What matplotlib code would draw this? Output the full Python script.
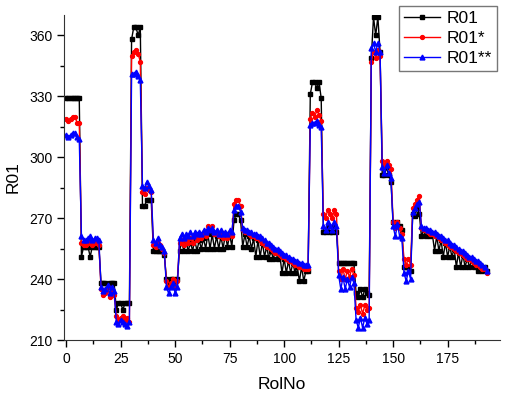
import numpy as np
import matplotlib
matplotlib.use("Agg")
import matplotlib.pyplot as plt
from matplotlib.ticker import MultipleLocator

# values, one line per plateau
r01 = (
    [329, 329, 329, 329, 329, 329, 329]
    + [251, 256, 256, 256, 251, 256, 256, 256, 256]
    + [238, 238, 238, 236, 238, 238, 238]
    + [225, 228, 228, 225, 228, 228, 228]
    + [358, 364, 364, 360, 364]
    + [276, 276, 279, 279, 279]
    + [254, 254, 254, 254, 254, 252]
    + [240, 238, 240, 240, 238, 240]
    + [254, 258, 254, 258, 254, 258, 254, 259, 254, 259, 255, 260, 255,
       262, 255, 262, 255, 261, 255, 261, 255, 262, 256, 262, 256]
    + [269, 272, 272, 269]
    + [256, 262, 256, 261, 255, 260, 251, 259, 251, 258, 251, 256, 250,
       254, 250, 254, 250, 252, 243, 250, 243, 249, 243, 248, 243, 246,
       239, 246, 239, 244, 244]
    + [331, 337, 337, 334, 337, 329]
    + [263, 263, 266, 263, 263, 266, 263]
    + [248, 248, 248, 248, 248, 248, 248, 248]
    + [233, 231, 235, 231, 235, 233, 232]
    + [349, 369, 360, 369, 352]
    + [291, 291, 295, 291, 288]
    + [268, 266, 268, 266, 264]
    + [246, 246, 246, 244]
    + [272, 271, 275, 272]
    + [261, 264, 261, 263, 261, 262, 254, 261, 254, 259, 251, 258, 251,
       256, 251, 255, 246, 253, 246, 252, 246, 250, 246, 249, 246, 248,
       244, 247, 244, 246, 244]
)

r01_s = (
    [319, 318, 319, 320, 320, 317, 317]
    + [258, 257, 257, 258, 258, 257, 258, 258, 257]
    + [235, 232, 233, 236, 231, 234, 232]
    + [222, 220, 221, 222, 220, 221, 219]
    + [350, 352, 353, 351, 347]
    + [283, 282, 285, 284, 283]
    + [257, 256, 258, 257, 255, 253]
    + [239, 236, 238, 240, 236, 239]
    + [258, 259, 257, 259, 258, 260, 258, 261, 259, 261, 260, 262, 261,
       266, 264, 266, 262, 262, 261, 263, 260, 261, 260, 262, 261]
    + [277, 279, 279, 276]
    + [264, 263, 263, 262, 261, 261, 260, 260, 259, 258, 257, 256, 256,
       255, 254, 253, 253, 252, 251, 251, 250, 249, 249, 248, 247, 247,
       246, 246, 245, 245, 245]
    + [319, 322, 320, 323, 321, 318]
    + [272, 270, 274, 272, 270, 274, 272]
    + [244, 240, 245, 240, 244, 241, 245, 242]
    + [226, 224, 227, 223, 227, 225, 226]
    + [347, 352, 349, 353, 350]
    + [298, 296, 298, 296, 294]
    + [268, 265, 268, 265, 262]
    + [250, 247, 250, 247]
    + [275, 277, 279, 281]
    + [265, 264, 264, 263, 262, 262, 261, 261, 260, 259, 259, 258, 257,
       256, 256, 255, 254, 253, 253, 252, 251, 250, 250, 249, 248, 247,
       247, 246, 245, 245, 243]
)

r01_ss = (
    [311, 310, 311, 312, 312, 310, 309]
    + [261, 259, 259, 260, 261, 259, 260, 260, 259]
    + [236, 234, 235, 237, 233, 236, 234]
    + [219, 218, 220, 219, 218, 217, 219]
    + [341, 341, 342, 340, 338]
    + [286, 285, 288, 286, 284]
    + [259, 258, 260, 257, 256, 254]
    + [236, 233, 236, 238, 233, 236]
    + [260, 262, 260, 262, 261, 263, 261, 263, 262, 263, 262, 264, 263,
       265, 264, 265, 263, 264, 262, 264, 262, 263, 262, 264, 263]
    + [274, 276, 276, 273]
    + [265, 264, 264, 263, 263, 262, 262, 261, 261, 260, 259, 258, 258,
       257, 256, 255, 255, 254, 253, 252, 252, 251, 250, 250, 249, 249,
       248, 248, 247, 247, 247]
    + [316, 317, 317, 318, 316, 315]
    + [266, 264, 268, 266, 264, 268, 266]
    + [242, 235, 241, 235, 240, 236, 241, 238]
    + [220, 216, 221, 216, 221, 218, 220]
    + [354, 356, 352, 356, 352]
    + [295, 292, 296, 292, 290]
    + [266, 261, 267, 261, 260]
    + [243, 239, 244, 240]
    + [273, 275, 277, 278]
    + [266, 265, 265, 264, 264, 263, 263, 262, 261, 261, 260, 259, 259,
       258, 257, 257, 256, 255, 254, 254, 253, 252, 251, 251, 250, 249,
       249, 248, 247, 246, 244]
)

rol_no = np.arange(len(r01))

plt.rcParams["font.family"] = ["Liberation Sans", "DejaVu Sans"]

fig = plt.figure(figsize=(5.06, 3.96), dpi=100)
ax = fig.add_axes([0.1265, 0.1414, 0.8615, 0.8207])

ax.plot(rol_no, r01, color="black", lw=1, marker="s", ms=2.8, label="R01")
ax.plot(rol_no, r01_s, color="red", lw=1, marker="o", ms=2.8, label="R01*")
ax.plot(rol_no, r01_ss, color="blue", lw=1, marker="^", ms=3.5, label="R01**")

ax.set_xlim(-1, 199)
ax.set_ylim(210, 370)
ax.xaxis.set_major_locator(MultipleLocator(25))
ax.xaxis.set_minor_locator(MultipleLocator(12.5))
ax.yaxis.set_major_locator(MultipleLocator(30))
ax.yaxis.set_minor_locator(MultipleLocator(15))
ax.tick_params(which="major", direction="out", length=5, width=1, labelsize=10)
ax.tick_params(which="minor", direction="out", length=3, width=1)

for side in ["top", "right"]:
    ax.spines[side].set_visible(False)
for side in ["left", "bottom"]:
    ax.spines[side].set_color("#333333")

ax.set_xlabel("RolNo", fontsize=12.5, labelpad=8)
ax.set_ylabel("R01", fontsize=12.5, labelpad=6)

leg = ax.legend(loc="upper right", bbox_to_anchor=(0.982, 0.985),
                bbox_transform=fig.transFigure, fontsize=12.5,
                fancybox=False, edgecolor="#777777", framealpha=1,
                borderaxespad=0, labelspacing=0.27, handletextpad=0.35,
                handlelength=2.1, borderpad=0.3)
leg.get_frame().set_linewidth(1)

fig.savefig("out.png", dpi=100)
